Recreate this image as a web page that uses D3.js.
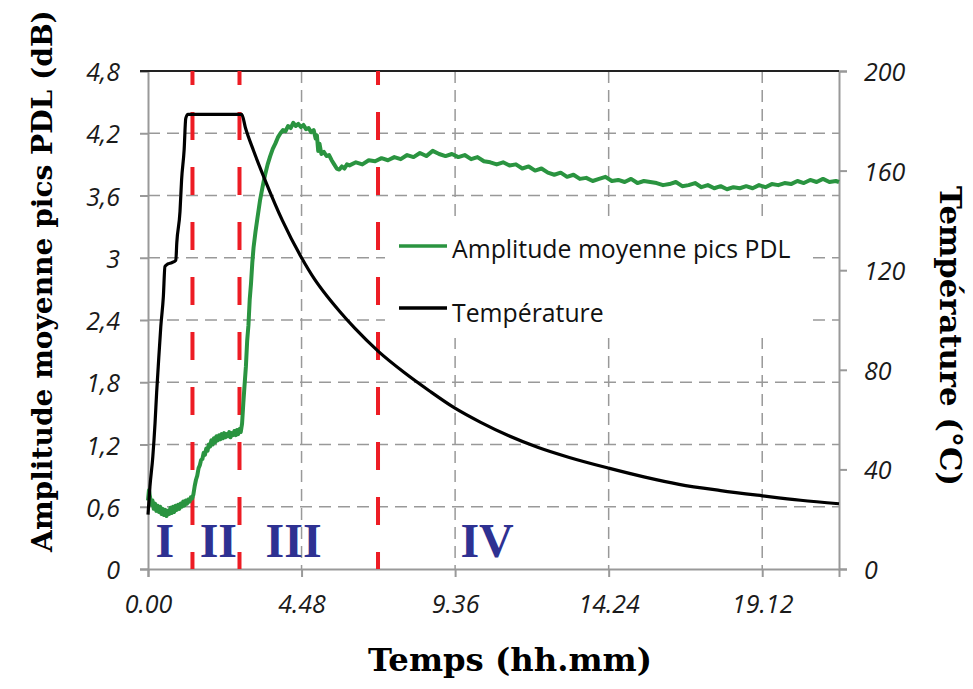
<!DOCTYPE html>
<html>
<head>
<meta charset="utf-8">
<script src="https://cdn.jsdelivr.net/npm/d3@7"></script>
<style>
  body { margin: 0; background: #fff; }
</style>
</head>
<body>
<svg class="chart"></svg>
<script>
// time in hours, labels written as hh.mm
let xTicks = [0, 4.8, 9.6, 14.4, 19.2];
let xTickLabels = ["0.00", "4.48", "9.36", "14.24", "19.12"];
let leftTicks = [0, 0.6, 1.2, 1.8, 2.4, 3, 3.6, 4.2, 4.8];
let leftTickLabels = ["0", "0,6", "1,2", "1,8", "2,4", "3", "3,6", "4,2", "4,8"];
let rightTicks = [0, 40, 80, 120, 160, 200];

// phase boundaries (hours) and labels
let phaseBounds = [1.39, 2.86, 7.19];
let phaseNames = ["I", "II", "III", "IV"];
let phasePos = [0.53, 2.2, 4.55, 10.6];

// temperature (°C)
let tempTime = [0, 0.06, 0.15, 0.22, 0.27, 0.32, 0.40, 0.48, 0.53, 0.62, 0.74, 0.87, 0.9, 1.0, 1.05, 1.13, 1.18, 1.25, 2.0, 2.93,
  3.05, 3.3, 3.72, 4.2, 4.8, 5.2, 5.6, 6.0, 6.47, 7.2, 8.0, 8.8, 9.57, 10.4, 11.26, 12.2, 13.17, 14.4, 15.5, 16.6, 17.9,
  19.2, 20.4, 21.6];
let tempC = [21.8, 33, 45, 58.6, 70.8, 81.3, 97.3, 109.4, 121.5, 122.5, 123, 124, 131, 143.5, 156.3, 168.4, 181, 182.6, 182.6, 182.6,
  177, 168, 154.3, 140, 125, 116.5, 109.5, 103.3, 96.6, 87.4, 79, 71.5, 64.8, 58.9, 53.6, 48.8, 44.8, 40.5, 37, 34, 31.5,
  29.4, 27.6, 26.2];

// mean PDL peak amplitude (dB)
let pdlTime = [0, 0.03, 0.06, 0.1, 0.14, 0.18, 0.22, 0.26, 0.3, 0.34, 0.38, 0.42, 0.46, 0.5, 0.54, 0.58, 0.62, 0.66, 0.7, 0.74,
  0.78, 0.82, 0.86, 0.9, 0.94, 0.98, 1.02, 1.06, 1.1, 1.14, 1.18, 1.22, 1.26, 1.3, 1.34, 1.38,
  1.42, 1.46, 1.5, 1.54, 1.58, 1.62, 1.66, 1.7, 1.74, 1.78, 1.82, 1.86, 1.9, 1.94, 1.98, 2.02, 2.06, 2.1, 2.14, 2.18,
  2.22, 2.26, 2.3, 2.34, 2.38, 2.42, 2.46, 2.5, 2.54, 2.58, 2.62, 2.66, 2.7, 2.74, 2.78, 2.82, 2.86, 2.9,
  2.94, 2.98, 3.02, 3.06, 3.1, 3.14, 3.18, 3.22, 3.26, 3.3, 3.36, 3.42, 3.5, 3.58, 3.66, 3.74, 3.82, 3.9, 3.98, 4.06,
  4.14, 4.22, 4.3, 4.38, 4.46, 4.54, 4.62, 4.7,
  4.78, 4.86, 4.94, 5.02, 5.1, 5.18, 5.24, 5.28, 5.32, 5.36, 5.42, 5.5, 5.58, 5.66, 5.74, 5.82, 5.9, 5.98, 6.06, 6.14, 6.22,
  6.3, 6.5, 6.7, 6.9, 7.1, 7.3, 7.5, 7.7, 7.9, 8.1, 8.3, 8.5, 8.7, 8.9, 9.1, 9.3, 9.5, 9.7, 9.9, 10.1, 10.3, 10.5, 10.7,
  10.9, 11.1, 11.3, 11.5, 11.7, 11.9, 12.1, 12.3, 12.5, 12.7, 12.9, 13.1, 13.3, 13.5, 13.7, 13.9, 14.1, 14.3, 14.5, 14.7,
  14.9, 15.1, 15.3, 15.5, 15.7, 15.9, 16.1, 16.3, 16.5, 16.7, 16.9, 17.1, 17.3, 17.5, 17.7, 17.9, 18.1, 18.3, 18.5, 18.7,
  18.9, 19.1, 19.3, 19.5, 19.7, 19.9, 20.1, 20.3, 20.5, 20.7, 20.9, 21.1, 21.3, 21.5, 21.6];
let pdlAmp = [0.66, 0.76, 0.70, 0.62, 0.66, 0.58, 0.63, 0.56, 0.61, 0.55, 0.6, 0.53, 0.58, 0.52, 0.57, 0.51, 0.56, 0.53, 0.59, 0.54,
  0.6, 0.55, 0.61, 0.57, 0.62, 0.58, 0.63, 0.6, 0.65, 0.61, 0.66, 0.63, 0.67, 0.65, 0.69, 0.68,
  0.72, 0.8, 0.86, 0.9, 0.97, 1.0, 1.05, 1.06, 1.12, 1.1, 1.16, 1.14, 1.2, 1.18, 1.24, 1.2, 1.26, 1.22, 1.28, 1.24,
  1.29, 1.25, 1.3, 1.26, 1.31, 1.27, 1.3, 1.28, 1.32, 1.27, 1.31, 1.29, 1.33, 1.29, 1.34, 1.3, 1.35, 1.32,
  1.4, 1.6, 1.78, 1.95, 2.2, 2.35, 2.6, 2.75, 2.95, 3.1, 3.25, 3.38, 3.55, 3.68, 3.8, 3.9, 3.98, 4.05, 4.1, 4.16,
  4.2, 4.23, 4.22, 4.27, 4.25, 4.3, 4.27, 4.29,
  4.26, 4.28, 4.24, 4.25, 4.21, 4.23, 4.15, 4.18, 4.03, 4.1, 4.0, 4.02, 3.98, 3.99, 3.94, 3.9, 3.86, 3.85, 3.88, 3.86, 3.9,
  3.89, 3.92, 3.9, 3.94, 3.93, 3.96, 3.94, 3.97, 3.95, 3.99, 3.97, 4.01, 3.98, 4.03, 4.0, 3.98, 4.0, 3.97, 3.99, 3.95, 3.97, 3.93, 3.92,
  3.9, 3.92, 3.89, 3.9, 3.86, 3.88, 3.84, 3.86, 3.82, 3.8, 3.82, 3.78, 3.8, 3.76, 3.77, 3.74, 3.76, 3.78, 3.74, 3.75,
  3.73, 3.76, 3.72, 3.74, 3.73, 3.72, 3.7, 3.71, 3.73, 3.69, 3.7, 3.72, 3.68, 3.7, 3.67, 3.69, 3.66, 3.68, 3.67, 3.69,
  3.67, 3.7, 3.68, 3.71, 3.7, 3.72, 3.71, 3.74, 3.72, 3.75, 3.73, 3.76, 3.73, 3.74, 3.73];

let w = 973, h = 689;
let pLeft = 148, pRight = 839, pTop = 71, pBottom = 569;

let x = d3.scaleLinear().domain([0, 21.6]).range([pLeft, pRight]);
let yL = d3.scaleLinear().domain([0, 4.8]).range([pBottom, pTop]);
let yR = d3.scaleLinear().domain([0, 200]).range([pBottom, pTop]);

let svg = d3.select(".chart")
  .attr("width", w)
  .attr("height", h)
  .style("font-family", "'Open Sans', sans-serif");

let gridColor = "#999";
let tickFont = "'Open Sans', sans-serif";

// grid
svg.append("g").selectAll("line")
  .data(leftTicks.slice(1, -1))
  .enter().append("line")
  .attr("x1", pLeft).attr("x2", pRight)
  .attr("y1", d => yL(d)).attr("y2", d => yL(d))
  .attr("stroke", gridColor).attr("stroke-width", 1.5)
  .attr("stroke-dasharray", "12,7");

svg.append("g").selectAll("line")
  .data(xTicks.slice(1))
  .enter().append("line")
  .attr("x1", d => x(d)).attr("x2", d => x(d))
  .attr("y1", pTop).attr("y2", pBottom)
  .attr("stroke", gridColor).attr("stroke-width", 1.5)
  .attr("stroke-dasharray", "12,7");

// legend background hides the grid behind it
svg.append("rect")
  .attr("x", 385).attr("y", 222)
  .attr("width", 423).attr("height", 116)
  .attr("fill", "#fff");

// axes
let axisColor = "#999";
let gx = svg.append("g")
  .attr("transform", "translate(0," + pBottom + ")")
  .call(d3.axisBottom(x).tickValues(xTicks).tickSize(8).tickPadding(18)
    .tickFormat((d, i) => xTickLabels[i]));
let gl = svg.append("g")
  .attr("transform", "translate(" + pLeft + ",0)")
  .call(d3.axisLeft(yL).tickValues(leftTicks).tickSize(8).tickPadding(20)
    .tickFormat((d, i) => leftTickLabels[i]));
let gr = svg.append("g")
  .attr("transform", "translate(" + pRight + ",0)")
  .call(d3.axisRight(yR).tickValues(rightTicks).tickSize(8).tickPadding(17));

[gx, gl, gr].forEach(g => {
  g.select(".domain").attr("stroke", axisColor).attr("stroke-width", 2);
  g.selectAll(".tick line").attr("stroke", axisColor).attr("stroke-width", 2);
  g.selectAll(".tick text")
    .attr("fill", "#1a1a1a")
    .style("font-family", tickFont)
    .style("font-style", "italic")
    .style("font-size", "25px");
});
gl.selectAll(".tick text").attr("dy", "0.38em");
gr.selectAll(".tick text").attr("dy", "0.38em");

// top border
svg.append("line")
  .attr("x1", pLeft - 8).attr("x2", pRight)
  .attr("y1", pTop).attr("y2", pTop)
  .attr("stroke", "#222").attr("stroke-width", 2);

// phase boundaries
svg.append("g").selectAll("line")
  .data(phaseBounds)
  .enter().append("line")
  .attr("x1", d => x(d)).attr("x2", d => x(d))
  .attr("y1", pTop).attr("y2", pBottom)
  .attr("stroke", "#ed1c24").attr("stroke-width", 4)
  .attr("stroke-dasharray", "28,27")
  .attr("stroke-dashoffset", 14);

svg.append("g").selectAll("text")
  .data(phaseNames)
  .enter().append("text")
  .attr("x", (d, i) => x(phasePos[i]))
  .attr("y", 557)
  .attr("text-anchor", "middle")
  .attr("fill", "#2e3192")
  .style("font-family", "'Liberation Serif', serif")
  .style("font-weight", "bold")
  .style("font-size", "48px")
  .text(d => d);

// curves
let pdlLine = d3.line()
  .x(d => x(d[0]))
  .y(d => yL(d[1]));
svg.append("path")
  .datum(pdlTime.map((t, i) => [t, pdlAmp[i]]))
  .attr("fill", "none")
  .attr("stroke", "#2a9440")
  .attr("stroke-width", 4)
  .attr("stroke-linejoin", "round")
  .attr("d", pdlLine);

let tempLine = d3.line()
  .curve(d3.curveMonotoneX)
  .x(d => x(d[0]))
  .y(d => yR(d[1]));
svg.append("path")
  .datum(tempTime.map((t, i) => [t, tempC[i]]))
  .attr("fill", "none")
  .attr("stroke", "#000")
  .attr("stroke-width", 3.2)
  .attr("stroke-linejoin", "round")
  .attr("d", tempLine);

// legend
let legend = [["Amplitude moyenne pics PDL", "#2a9440", 246, 258], ["Température", "#000", 308, 322]];
legend.forEach(l => {
  svg.append("line")
    .attr("x1", 399).attr("x2", 447)
    .attr("y1", l[2]).attr("y2", l[2])
    .attr("stroke", l[1]).attr("stroke-width", 3.5);
  svg.append("text")
    .attr("x", 452).attr("y", l[3])
    .attr("fill", "#111")
    .style("font-family", "'Open Sans', sans-serif")
    .style("font-size", "24.8px")
    .text(l[0]);
});

// axis titles
function fitWidth(sel, len) {
  let fs = parseFloat(sel.style("font-size"));
  let cur = sel.node().getComputedTextLength();
  sel.style("font-size", (fs * len / cur) + "px");
}

let titleFont = "'DejaVu Serif', serif";
let tL = svg.append("text")
  .attr("transform", "translate(52,281) rotate(-90)")
  .attr("text-anchor", "middle")
  .style("font-family", titleFont).style("font-weight", "bold").style("font-size", "28px")
  .text("Amplitude moyenne pics PDL (dB)");
fitWidth(tL, 542);

let tR = svg.append("text")
  .attr("transform", "translate(940,336) rotate(90)")
  .attr("text-anchor", "middle")
  .style("font-family", titleFont).style("font-weight", "bold").style("font-size", "28px")
  .text("Température (°C)");
fitWidth(tR, 300);

let tB = svg.append("text")
  .attr("x", 510).attr("y", 671)
  .attr("text-anchor", "middle")
  .style("font-family", titleFont).style("font-weight", "bold").style("font-size", "28px")
  .text("Temps (hh.mm)");
fitWidth(tB, 284);
</script>
</body>
</html>
